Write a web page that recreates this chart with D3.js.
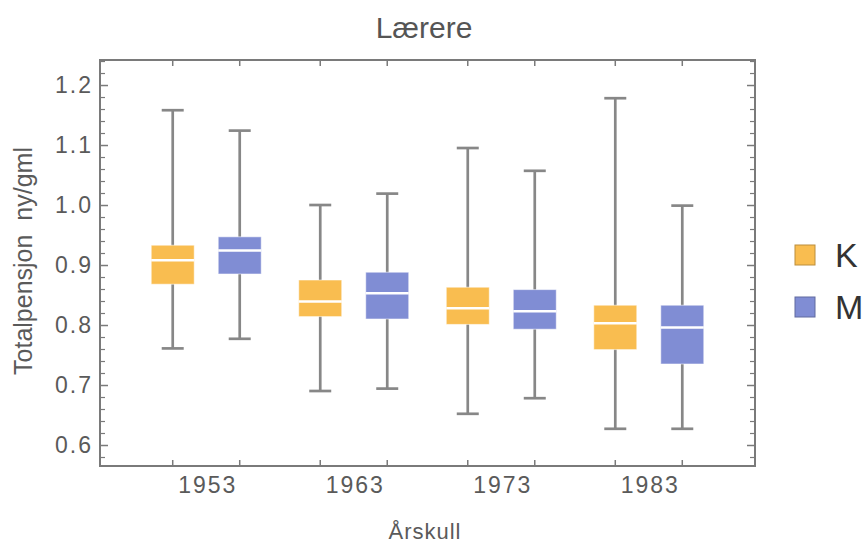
<!DOCTYPE html>
<html lang="no">
<head>
<meta charset="utf-8">
<title>Lærere</title>
<script src="https://cdnjs.cloudflare.com/ajax/libs/d3/7.8.5/d3.min.js"></script>
<style>
  body { margin: 0; background: #fff; }
  text { font-family: "Liberation Sans", Arial, sans-serif; }
</style>
</head>
<body>
<div id="chart"></div>
<script>
// data
var years = ["1953", "1963", "1973", "1983"];
var groups = ["K", "M"];
var colors = {K: "#f9bd50", M: "#808dd4"};

var kHigh   = [1.158, 1.000, 1.095, 1.178];
var kQ3     = [0.933, 0.875, 0.863, 0.833];
var kMedian = [0.908, 0.839, 0.828, 0.803];
var kQ1     = [0.868, 0.814, 0.801, 0.759];
var kLow    = [0.761, 0.690, 0.652, 0.627];

var mHigh   = [1.124, 1.019, 1.057, 0.999];
var mQ3     = [0.947, 0.888, 0.859, 0.833];
var mMedian = [0.924, 0.853, 0.823, 0.796];
var mQ1     = [0.885, 0.810, 0.793, 0.735];
var mLow    = [0.777, 0.694, 0.678, 0.627];

var yTicks = [0.6, 0.7, 0.8, 0.9, 1.0, 1.1, 1.2];

// build box records
var boxes = [];
years.forEach(function(yr, i) {
  boxes.push({year: yr, g: "K", high: kHigh[i], q3: kQ3[i], med: kMedian[i], q1: kQ1[i], low: kLow[i]});
  boxes.push({year: yr, g: "M", high: mHigh[i], q3: mQ3[i], med: mMedian[i], q1: mQ1[i], low: mLow[i]});
});

var width = 866, height = 544;
var plotL = 100, plotR = 755, plotT = 60, plotB = 466;

var svg = d3.select("#chart").append("svg")
  .attr("width", width)
  .attr("height", height);

var x = d3.scalePoint().domain(years).range([plotL, plotR]).padding(0.72);
var xIn = d3.scalePoint().domain(groups).range([-33.5, 33.5]);
var y = d3.scaleLinear().domain([0.565, 1.2417]).range([plotB, plotT]);

var boxW = 43, capW = 22;
var axisColor = "#7a7a7a";
var whiskerColor = "#878787";

function cx(d) { return x(d.year) + xIn(d.g); }

// minor y ticks
var minor = d3.range(0.58, 1.2401, 0.02).filter(function(v) {
  return Math.abs(Math.round(v * 10) - v * 10) > 0.01;
});

// left axis
var yAxisL = svg.append("g").attr("transform", "translate(" + plotL + ",0)")
  .call(d3.axisLeft(y).tickValues(yTicks).tickSize(-8).tickPadding(7)
    .tickFormat(d3.format(".1f")));
yAxisL.select(".domain").remove();
yAxisL.selectAll("line").attr("stroke", axisColor).attr("stroke-width", 1.5);
yAxisL.selectAll("text")
  .attr("fill", "#5a5a5a")
  .style("font-size", "23px")
  .style("letter-spacing", "2px");

var yMinL = svg.append("g").attr("transform", "translate(" + plotL + ",0)")
  .call(d3.axisLeft(y).tickValues(minor).tickSize(-5).tickFormat(""));
yMinL.select(".domain").remove();
yMinL.selectAll("line").attr("stroke", axisColor).attr("stroke-width", 1.2);

// right axis (mirrored)
var yAxisR = svg.append("g").attr("transform", "translate(" + plotR + ",0)")
  .call(d3.axisRight(y).tickValues(yTicks).tickSize(-8).tickFormat(""));
yAxisR.select(".domain").remove();
yAxisR.selectAll("line").attr("stroke", axisColor).attr("stroke-width", 1.5);

var yMinR = svg.append("g").attr("transform", "translate(" + plotR + ",0)")
  .call(d3.axisRight(y).tickValues(minor).tickSize(-5).tickFormat(""));
yMinR.select(".domain").remove();
yMinR.selectAll("line").attr("stroke", axisColor).attr("stroke-width", 1.2);

// x labels
var xAxis = svg.append("g").attr("transform", "translate(1," + plotB + ")")
  .call(d3.axisBottom(x).tickSize(0).tickPadding(11));
xAxis.select(".domain").remove();
xAxis.selectAll("text")
  .attr("fill", "#5a5a5a")
  .style("font-size", "23px")
  .style("letter-spacing", "2px");

// x ticks at each box, bottom and top
svg.append("g").selectAll("line")
  .data(boxes).enter().append("line")
  .attr("x1", cx).attr("x2", cx)
  .attr("y1", plotB).attr("y2", plotB - 6)
  .attr("stroke", axisColor).attr("stroke-width", 1.5);
svg.append("g").selectAll("line")
  .data(boxes).enter().append("line")
  .attr("x1", cx).attr("x2", cx)
  .attr("y1", plotT).attr("y2", plotT + 6)
  .attr("stroke", axisColor).attr("stroke-width", 1.5);

// frame
svg.append("rect")
  .attr("x", plotL).attr("y", plotT)
  .attr("width", plotR - plotL).attr("height", plotB - plotT)
  .attr("fill", "none")
  .attr("stroke", axisColor)
  .attr("stroke-width", 2);

// boxes
var bx = svg.append("g").selectAll("g")
  .data(boxes).enter().append("g");

bx.append("line")
  .attr("x1", cx).attr("x2", cx)
  .attr("y1", function(d) { return y(d.high); })
  .attr("y2", function(d) { return y(d.low); })
  .attr("stroke", whiskerColor).attr("stroke-width", 2.7);

bx.append("line")
  .attr("x1", function(d) { return cx(d) - capW / 2; })
  .attr("x2", function(d) { return cx(d) + capW / 2; })
  .attr("y1", function(d) { return y(d.high); })
  .attr("y2", function(d) { return y(d.high); })
  .attr("stroke", whiskerColor).attr("stroke-width", 2.7);

bx.append("line")
  .attr("x1", function(d) { return cx(d) - capW / 2; })
  .attr("x2", function(d) { return cx(d) + capW / 2; })
  .attr("y1", function(d) { return y(d.low); })
  .attr("y2", function(d) { return y(d.low); })
  .attr("stroke", whiskerColor).attr("stroke-width", 2.7);

bx.append("rect")
  .attr("x", function(d) { return cx(d) - boxW / 2; })
  .attr("y", function(d) { return y(d.q3); })
  .attr("width", boxW)
  .attr("height", function(d) { return y(d.q1) - y(d.q3); })
  .attr("fill", function(d) { return colors[d.g]; })
  .attr("stroke", "#ffffff").attr("stroke-opacity", 0.55).attr("stroke-width", 1);

bx.append("line")
  .attr("x1", function(d) { return cx(d) - boxW / 2; })
  .attr("x2", function(d) { return cx(d) + boxW / 2; })
  .attr("y1", function(d) { return y(d.med); })
  .attr("y2", function(d) { return y(d.med); })
  .attr("stroke", "#ffffff").attr("stroke-width", 2.5);

// title and axis labels
svg.append("text")
  .attr("x", 424).attr("y", 38)
  .attr("text-anchor", "middle")
  .attr("fill", "#555")
  .style("font-size", "30px")
  .text("Lærere");

svg.append("text")
  .attr("x", 425).attr("y", 539)
  .attr("text-anchor", "middle")
  .attr("fill", "#5a5a5a")
  .style("font-size", "22px")
  .style("letter-spacing", "1px")
  .text("Årskull");

svg.append("text")
  .attr("transform", "translate(32,261) rotate(-90)")
  .attr("text-anchor", "middle")
  .attr("fill", "#5a5a5a")
  .style("font-size", "25px")
  .text("Totalpensjon\u00a0 ny/gml");

// legend
var leg = svg.append("g").selectAll("g")
  .data(groups).enter().append("g")
  .attr("transform", function(d, i) { return "translate(795," + (245 + i * 52) + ")"; });
leg.append("rect")
  .attr("width", 20).attr("height", 20)
  .attr("fill", function(d) { return colors[d]; })
  .attr("stroke", function(d) { return d3.color(colors[d]).darker(0.8); })
  .attr("stroke-width", 1);
leg.append("text")
  .attr("x", 40).attr("y", 21.5)
  .attr("fill", "#333")
  .style("font-size", "34px")
  .text(function(d) { return d; });
</script>
</body>
</html>
